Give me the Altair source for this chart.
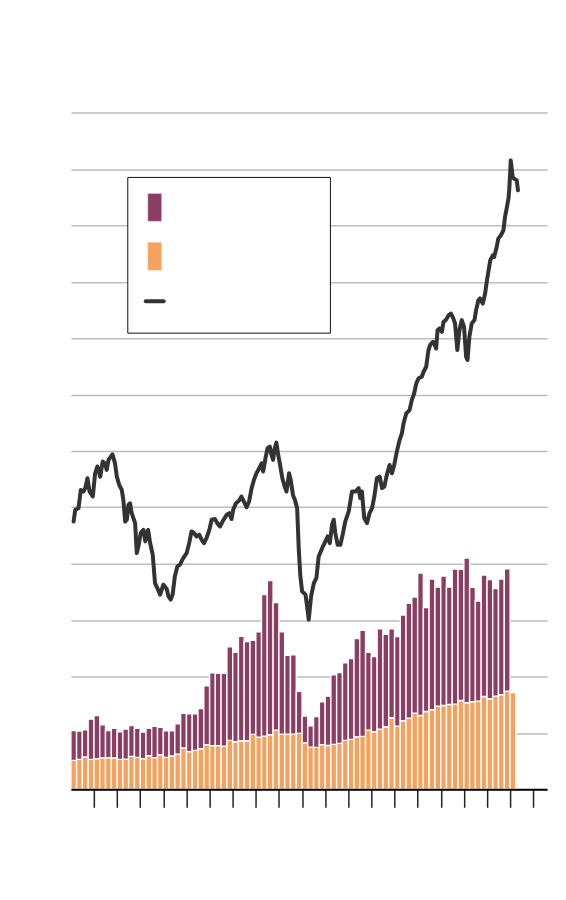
import altair as alt
import pandas as pd

# ---- data (quarterly bars, starting 1999 Q1) ----
first_quarter = "1999-01-01"
dividends = [25.7, 26.5, 28.6, 26.5, 27.2, 27.7, 28.1, 27.7, 26.5, 26.8,
             29.2, 28.3, 27.2, 29.8, 28.1, 30.7, 28.3, 29.5, 31.2, 36.6,
             33.4, 34.5, 36.0, 39.6, 38.7, 38.7, 38.3, 43.4, 42.2, 43.1,
             43.1, 48.7, 46.3, 47.2, 48.4, 52.5, 48.9, 48.9, 48.9, 49.6,
             41.2, 37.4, 37.2, 39.6, 38.9, 39.8, 40.7, 43.4, 44.3, 46.6,
             46.9, 52.5, 51.1, 53.4, 55.5, 63.5, 56.0, 60.8, 63.1, 67.5,
             65.5, 69.0, 70.5, 73.7, 74.3, 75.2, 75.5, 78.8, 76.7, 77.6,
             78.1, 82.3, 80.3, 82.6, 83.8, 87.0, 85.8]
buybacks = [26.5, 25.1, 24.2, 35.7, 38.3, 29.6, 24.1, 26.3, 24.6, 26.6,
            27.4, 25.7, 23.5, 24.2, 27.7, 24.2, 23.6, 22.4, 26.9, 30.7,
            33.6, 32.5, 35.7, 52.2, 64.6, 64.2, 64.6, 82.9, 79.3, 92.6,
            87.9, 83.4, 93.3, 125.4, 136.6, 113.0, 90.7, 70.0, 70.3, 37.4,
            23.8, 19.0, 27.4, 38.0, 43.7, 61.7, 62.8, 68.7, 71.6, 87.0,
            94.1, 69.0, 66.6, 88.8, 81.9, 78.7, 79.4, 93.8, 101.8, 103.0,
            126.3, 92.1, 116.0, 105.7, 114.8, 104.2, 119.8, 116.2, 128.4, 101.4,
            88.9, 107.7, 105.6, 95.3, 102.7, 108.6, None]

# ---- index line (decimal year, level) ----
line_t = [1999.12, 1999.19, 1999.33, 1999.43, 1999.55, 1999.62, 1999.72, 1999.81, 1999.95, 2000.05,
          2000.15, 2000.27, 2000.38, 2000.48, 2000.55, 2000.63, 2000.80, 2000.91, 2000.99, 2001.09,
          2001.20, 2001.27, 2001.35, 2001.42, 2001.49, 2001.56, 2001.63, 2001.78, 2001.85, 2001.92,
          2002.02, 2002.14, 2002.22, 2002.34, 2002.43, 2002.54, 2002.64, 2002.74, 2002.86, 2003.00,
          2003.15, 2003.22, 2003.32, 2003.40, 2003.50, 2003.61, 2003.72, 2003.86, 2004.01, 2004.12,
          2004.22, 2004.33, 2004.44, 2004.56, 2004.66, 2004.76, 2004.87, 2004.99, 2005.09, 2005.23,
          2005.33, 2005.45, 2005.56, 2005.74, 2005.85, 2005.95, 2006.02, 2006.14, 2006.28, 2006.38,
          2006.48, 2006.60, 2006.71, 2006.82, 2006.92, 2007.03, 2007.15, 2007.25, 2007.32, 2007.42,
          2007.51, 2007.61, 2007.68, 2007.75, 2007.82, 2007.89, 2007.97, 2008.04, 2008.15, 2008.25,
          2008.33, 2008.44, 2008.51, 2008.61, 2008.69,
          2008.79, 2008.86, 2008.93, 2009.00, 2009.15, 2009.22, 2009.29, 2009.39, 2009.51, 2009.62,
          2009.72, 2009.87, 2010.01, 2010.11, 2010.20, 2010.30, 2010.37, 2010.44, 2010.54, 2010.66,
          2010.77, 2010.87, 2011.02, 2011.16, 2011.31, 2011.45,
          2011.52, 2011.59, 2011.69, 2011.81, 2011.92, 2012.03, 2012.13, 2012.24, 2012.36, 2012.46,
          2012.56, 2012.67, 2012.79, 2012.89, 2012.99, 2013.10, 2013.22, 2013.32, 2013.39, 2013.51,
          2013.65, 2013.75, 2013.85, 2013.94, 2014.04, 2014.18,
          2014.26, 2014.37, 2014.47, 2014.54, 2014.66, 2014.72, 2014.80, 2014.86, 2014.95, 2015.05,
          2015.12, 2015.24, 2015.34, 2015.44, 2015.52, 2015.62, 2015.72, 2015.81, 2015.91, 2016.01,
          2016.10, 2016.16, 2016.24, 2016.34, 2016.46, 2016.53,
          2016.63, 2016.70, 2016.82, 2016.92, 2016.99, 2017.06, 2017.14, 2017.25, 2017.31, 2017.42,
          2017.49, 2017.60, 2017.71, 2017.78, 2017.85, 2017.93, 2017.97, 2018.03, 2018.11, 2018.17,
          2018.29, 2018.34]
line_v = [1187, 1239, 1246, 1327, 1320, 1335, 1379, 1320, 1298, 1401,
          1431, 1386, 1453, 1445, 1416, 1460, 1485, 1445, 1386, 1350,
          1327, 1283, 1187, 1195, 1261, 1268, 1224, 1180, 1047, 1077,
          1136, 1150, 1099, 1150, 1091, 1040, 914, 892, 863, 907,
          888, 855, 841, 863, 944, 988, 996, 1025, 1047, 1091,
          1143, 1136, 1121, 1128, 1106, 1091, 1114, 1150, 1195, 1198,
          1180, 1165, 1187, 1217, 1224, 1198, 1239, 1268, 1280, 1298,
          1276, 1251, 1276, 1335, 1372, 1401, 1423, 1445, 1409, 1468,
          1512, 1519, 1482, 1460, 1512, 1537, 1482, 1445, 1379, 1342,
          1320, 1401, 1372, 1305, 1283,
          1246, 1062, 944, 878, 863, 811, 752, 855, 914, 937,
          1032, 1069, 1099, 1121, 1091, 1173, 1195, 1136, 1084, 1084,
          1136, 1187, 1232, 1320, 1320, 1335,
          1291, 1320, 1202, 1180, 1224, 1246, 1298, 1379, 1386, 1335,
          1342, 1394, 1438, 1401, 1438, 1497, 1549, 1578, 1622, 1667,
          1681, 1726, 1755, 1799, 1822, 1829,
          1851, 1873, 1947, 1969, 1984, 1976, 1954, 2035, 2043, 2028,
          2072, 2083, 2102, 2109, 2094, 2065, 1947, 2035, 2080, 2050,
          1917, 1903, 2006, 2065, 2080, 2124,
          2168, 2176, 2153, 2198, 2249, 2294, 2345, 2367, 2360, 2404,
          2441, 2456, 2478, 2537, 2574, 2618, 2670, 2788, 2714, 2707,
          2699, 2655]

tick_years = list(range(2000, 2020))

PURPLE = "#8b3e62"
ORANGE = "#f6a15d"
LINE = "#333333"
GRID = "#bdbdbd"

# ---- build tables ----
n_q = len(dividends)
starts = pd.date_range(first_quarter, periods=n_q + 1, freq="QS")
rows = []
for i in range(n_q):
    s = starts[i].strftime("%Y-%m-%d")
    e = starts[i + 1].strftime("%Y-%m-%d")
    rows.append({"start": s, "end": e, "series": "Dividends", "rank": 0, "value": dividends[i]})
    if buybacks[i] is not None:
        rows.append({"start": s, "end": e, "series": "Buybacks", "rank": 1, "value": buybacks[i]})
bars_df = pd.DataFrame(rows)


def dec_to_date(t):
    y = int(t)
    base = pd.Timestamp(year=y, month=1, day=1)
    return (base + pd.Timedelta(days=(t - y) * 365.25)).strftime("%Y-%m-%d")


n_l = min(len(line_t), len(line_v))
line_df = pd.DataFrame({"date": [dec_to_date(t) for t in line_t[:n_l]], "level": line_v[:n_l]})

x_scale = alt.Scale(domain=[alt.DateTime(year=1999, month=1, date=1, utc=True),
                            alt.DateTime(year=2019, month=8, date=7, utc=True)],
                    padding=0, nice=False)
x_axis = alt.Axis(values=[alt.DateTime(year=y, month=1, date=1, utc=True) for y in tick_years],
                  labels=False, title=None, grid=False, tickSize=18, tickWidth=1.5,
                  tickColor="#222222", domainColor="#000000", domainWidth=2, zindex=1)

bars = alt.Chart(bars_df).mark_bar(stroke="white", strokeWidth=1.4).encode(
    x=alt.X("start:T", scale=x_scale, axis=x_axis),
    x2="end:T",
    y=alt.Y("sum(value):Q", stack="zero",
            scale=alt.Scale(domain=[0, 600], nice=False, padding=0),
            axis=alt.Axis(values=list(range(0, 601, 50)), grid=True, labels=False,
                          ticks=False, domain=False, title=None,
                          gridColor=GRID, gridWidth=1.5)),
    color=alt.Color("series:N", scale=alt.Scale(domain=["Dividends", "Buybacks"],
                                                range=[ORANGE, PURPLE]), legend=None),
    order=alt.Order("rank:Q", sort="ascending"),
)

line = alt.Chart(line_df).mark_line(color=LINE, strokeWidth=4, strokeJoin="round",
                                    strokeCap="round").encode(
    x=alt.X("date:T", scale=x_scale, axis=x_axis),
    y=alt.Y("level:Q", scale=alt.Scale(domain=[0, 3000], nice=False), axis=None),
)

one = pd.DataFrame({"k": [0]})
legend_box = alt.Chart(one).mark_rect(fill="white", stroke="#111111", strokeWidth=1).encode(
    x=alt.value(57), x2=alt.value(260), y=alt.value(65), y2=alt.value(221))
sw_purple = alt.Chart(one).mark_rect(fill=PURPLE, stroke="#f3dbe6", strokeWidth=0.6).encode(
    x=alt.value(77), x2=alt.value(91), y=alt.value(81), y2=alt.value(109))
sw_orange = alt.Chart(one).mark_rect(fill=ORANGE, stroke="#fde3cc", strokeWidth=0.6).encode(
    x=alt.value(77), x2=alt.value(91), y=alt.value(130), y2=alt.value(158))
sw_line = alt.Chart(one).mark_rule(color=LINE, strokeWidth=4, strokeCap="round").encode(
    x=alt.value(75), x2=alt.value(93), y=alt.value(189))

chart = alt.layer(bars, line, legend_box, sw_purple, sw_orange, sw_line).resolve_scale(
    y="independent"
).properties(
    width=477, height=678,
    padding={"left": 62, "top": 104, "right": 11, "bottom": 10},
    background="white",
).configure_view(strokeWidth=0, stroke="transparent")

chart.save("out.html", embed_options={"renderer": "svg", "actions": False})
